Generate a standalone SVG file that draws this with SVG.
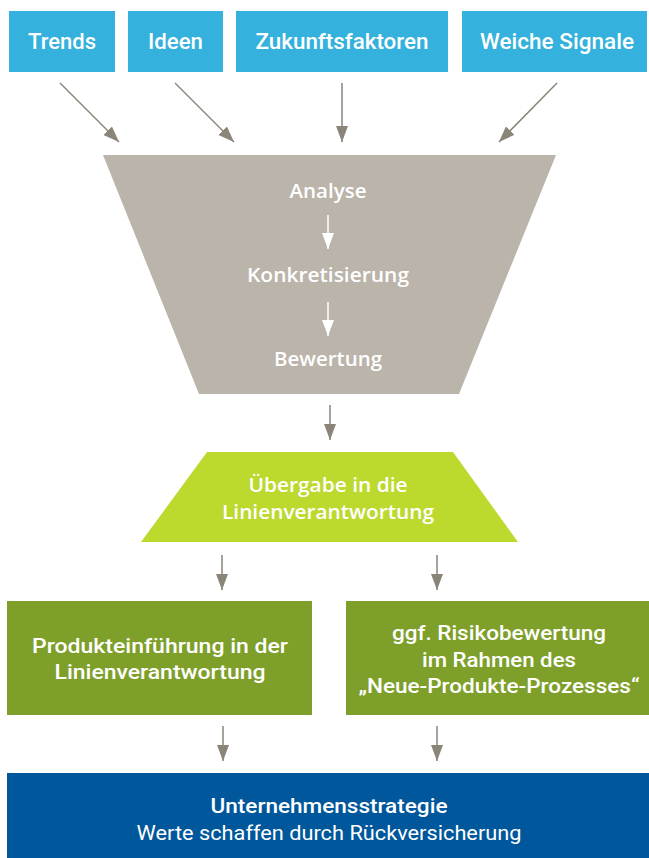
<svg xmlns="http://www.w3.org/2000/svg" width="649" height="858" viewBox="0 0 649 858">
<defs>
<style>
.t{font-family:Roboto,"Open Sans","Liberation Sans",sans-serif;font-weight:500;fill:#fff;text-anchor:middle}
.r{font-weight:400}
.f{font-family:"Open Sans","Noto Sans","Liberation Sans",sans-serif;font-weight:600;fill:#fff;text-anchor:middle}
.con{stroke:#8b8478;stroke-width:1.5;fill:none}
.wcon{stroke:#fff;stroke-width:1.5;fill:none}
</style>
<marker id="ah" markerUnits="userSpaceOnUse" markerWidth="16" markerHeight="12" refX="16" refY="6" orient="auto" viewBox="0 0 16 12">
<path d="M0,0 L16,6 L0,12 z" fill="#8b8478"/>
</marker>
<marker id="wh" markerUnits="userSpaceOnUse" markerWidth="16" markerHeight="12" refX="16" refY="6" orient="auto" viewBox="0 0 16 12">
<path d="M0,0 L16,6 L0,12 z" fill="#fff"/>
</marker>
</defs>
<rect width="649" height="858" fill="#fff"/>
<g id="n-trends"><rect x="9" y="11" width="106" height="61" fill="#34b1dc"/><text class="t" x="62" y="49" font-size="22" textLength="68" lengthAdjust="spacingAndGlyphs">Trends</text></g>
<g id="n-ideen"><rect x="128" y="11" width="95" height="61" fill="#34b1dc"/><text class="t" x="175.5" y="49" font-size="22" textLength="55" lengthAdjust="spacingAndGlyphs">Ideen</text></g>
<g id="n-zukunft"><rect x="236" y="11" width="212" height="61" fill="#34b1dc"/><text class="t" x="342" y="49" font-size="22" textLength="173" lengthAdjust="spacingAndGlyphs">Zukunftsfaktoren</text></g>
<g id="n-weiche"><rect x="462" y="11" width="185" height="61" fill="#34b1dc"/><text class="t" x="557" y="49" font-size="22" textLength="154" lengthAdjust="spacingAndGlyphs">Weiche Signale</text></g>
<g id="n-funnel"><path d="M103,155 L556,155 L459,394 L199,394 z" fill="#bab4aa"/>
<text class="f" x="328" y="198" font-size="19" textLength="77" lengthAdjust="spacingAndGlyphs">Analyse</text>
<text class="f" x="328" y="282" font-size="19" textLength="162" lengthAdjust="spacingAndGlyphs">Konkretisierung</text>
<text class="f" x="328" y="366" font-size="19" textLength="108" lengthAdjust="spacingAndGlyphs">Bewertung</text>
<line class="wcon" x1="328" y1="215" x2="328" y2="249" marker-end="url(#wh)"/>
<line class="wcon" x1="328" y1="302" x2="328" y2="336" marker-end="url(#wh)"/>
</g>
<g id="n-uebergabe"><path d="M207,452 L453,452 L518,542 L141,542 z" fill="#bcd92e"/>
<text class="f" x="328" y="492" font-size="19" textLength="159" lengthAdjust="spacingAndGlyphs">Übergabe in die</text>
<text class="f" x="328" y="519" font-size="19" textLength="212" lengthAdjust="spacingAndGlyphs">Linienverantwortung</text>
</g>
<g id="n-produkt"><rect x="7" y="601" width="305" height="114" fill="#7ea02a"/>
<text class="t" x="160" y="653" font-size="21" textLength="256" lengthAdjust="spacingAndGlyphs">Produkteinführung in der</text>
<text class="t" x="160" y="679" font-size="21" textLength="211" lengthAdjust="spacingAndGlyphs">Linienverantwortung</text>
</g>
<g id="n-risiko"><rect x="346" y="601" width="303" height="114" fill="#7ea02a"/>
<text class="t" x="499" y="640" font-size="21" textLength="214" lengthAdjust="spacingAndGlyphs">ggf. Risikobewertung</text>
<text class="t" x="499" y="667" font-size="21" textLength="154" lengthAdjust="spacingAndGlyphs">im Rahmen des</text>
<text class="t" x="499" y="693" font-size="21" textLength="281" lengthAdjust="spacingAndGlyphs">„Neue-Produkte-Prozesses“</text>
</g>
<g id="n-strategie"><rect x="7" y="773" width="642" height="85" fill="#00579b"/>
<text class="t" x="329" y="813" font-size="21" textLength="237" lengthAdjust="spacingAndGlyphs">Unternehmensstrategie</text>
<text class="t r" x="329" y="840" font-size="21" textLength="385" lengthAdjust="spacingAndGlyphs">Werte schaffen durch Rückversicherung</text>
</g>
<g id="connectors">
<line class="con" x1="60" y1="83" x2="119" y2="142" marker-end="url(#ah)"/>
<line class="con" x1="175" y1="83" x2="234" y2="142" marker-end="url(#ah)"/>
<line class="con" x1="342" y1="83" x2="342" y2="142" marker-end="url(#ah)"/>
<line class="con" x1="557" y1="83" x2="499" y2="142" marker-end="url(#ah)"/>
<line class="con" x1="330" y1="405" x2="330" y2="440" marker-end="url(#ah)"/>
<line class="con" x1="222" y1="555" x2="222" y2="590" marker-end="url(#ah)"/>
<line class="con" x1="437" y1="555" x2="437" y2="590" marker-end="url(#ah)"/>
<line class="con" x1="223" y1="726" x2="223" y2="761" marker-end="url(#ah)"/>
<line class="con" x1="437" y1="726" x2="437" y2="761" marker-end="url(#ah)"/>
</g>
</svg>
